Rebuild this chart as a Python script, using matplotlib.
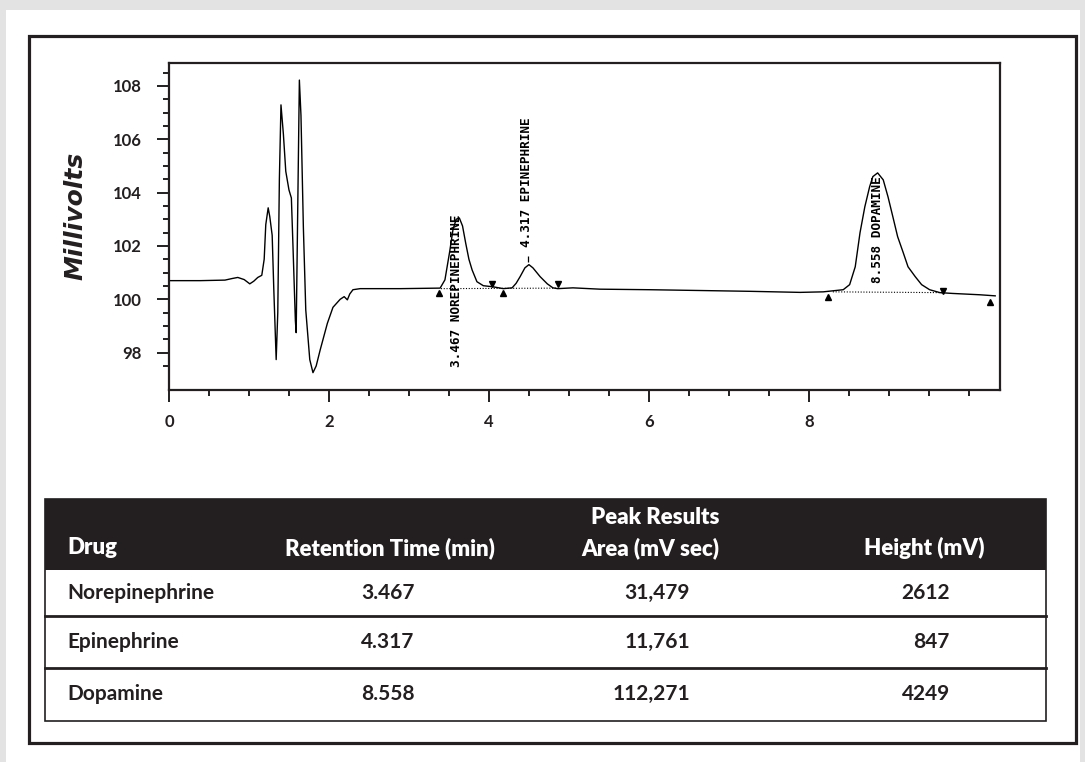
import matplotlib.pyplot as plt
from matplotlib.patches import Rectangle
from matplotlib.ticker import MultipleLocator, FixedLocator

plt.rcParams['font.family'] = ['Lato', 'DejaVu Sans']

ink = "#231f20"

# chromatogram trace (minutes, millivolts)
time_min = [0.00, 0.39, 0.70, 0.79, 0.86, 0.94, 1.01, 1.06, 1.11, 1.16,
            1.19, 1.21, 1.24, 1.26, 1.29, 1.31, 1.34, 1.36, 1.38, 1.40,
            1.43, 1.46, 1.50, 1.53, 1.55, 1.58, 1.59, 1.61, 1.63, 1.65,
            1.68, 1.71, 1.76, 1.80, 1.84, 1.89, 1.98, 2.05, 2.14, 2.19,
            2.23, 2.26, 2.30, 2.39, 2.89, 3.39, 3.45, 3.51, 3.55, 3.59,
            3.63, 3.67, 3.71, 3.75, 3.79, 3.85, 3.93, 4.05, 4.18, 4.29,
            4.34, 4.39, 4.45, 4.50, 4.55, 4.64, 4.73, 4.80, 4.86, 5.05,
            5.39, 6.01, 6.64, 7.26, 7.89, 8.18, 8.43, 8.51, 8.58, 8.64,
            8.70, 8.76, 8.80, 8.86, 8.93, 8.99, 9.05, 9.11, 9.18, 9.24,
            9.33, 9.41, 9.51, 9.64, 9.80, 10.14, 10.33]
signal_mv = [100.70, 100.70, 100.72, 100.78, 100.82, 100.74, 100.58, 100.68, 100.82, 100.90,
             101.50, 102.80, 103.43, 103.10, 102.40, 100.40, 97.74, 99.50, 104.50, 107.29,
             106.20, 104.80, 104.10, 103.80, 102.00, 99.20, 98.75, 103.50, 108.22, 106.90,
             102.70, 99.60, 97.74, 97.25, 97.50, 98.10, 99.10, 99.70, 100.00, 100.10,
             99.98, 100.20, 100.36, 100.40, 100.40, 100.42, 100.73, 101.80, 102.60, 103.00,
             103.05, 102.75, 102.10, 101.50, 101.10, 100.66, 100.51, 100.47, 100.40, 100.43,
             100.60, 100.85, 101.18, 101.30, 101.18, 100.85, 100.58, 100.43, 100.40, 100.43,
             100.38, 100.36, 100.33, 100.30, 100.26, 100.28, 100.36, 100.55, 101.22, 102.50,
             103.47, 104.22, 104.60, 104.74, 104.48, 103.84, 103.10, 102.35, 101.75, 101.22,
             100.85, 100.55, 100.36, 100.25, 100.22, 100.17, 100.13]

# integration start / end marks
start_t = [3.37, 4.17, 8.24, 10.26]
start_mv = [100.25, 100.25, 100.10, 99.91]
end_t = [4.04, 4.86, 9.68]
end_mv = [100.58, 100.58, 100.32]

# drawn peak baselines
base_t = [[3.40, 4.86], [8.30, 9.68]]
base_mv = [[100.40, 100.42], [100.28, 100.25]]

peak_labels = ["3.467 NOREPINEPHRINE", "4.317 EPINEPHRINE", "8.558 DOPAMINE"]
label_t = [3.59, 4.47, 8.86]
label_mv = [97.45, 101.95, 100.60]

apex_t = [4.49]
apex_mv = [101.52]

# peak results table
drugs = ["Norepinephrine", "Epinephrine", "Dopamine"]
ret_times = [3.467, 4.317, 8.558]
areas = [31479, 11761, 112271]
heights = [2612, 847, 4249]

W, H = 1085, 762
fig = plt.figure(figsize=(W / 100, H / 100), dpi=100, facecolor="#e3e3e3")

# page background, frame and table drawn in pixel units
bg = fig.add_axes([0, 0, 1, 1])
bg.set_xlim(0, W)
bg.set_ylim(H, 0)
bg.axis("off")
bg.add_patch(Rectangle((6, 10), 1074, 760, facecolor="white", edgecolor="none"))
bg.add_patch(Rectangle((29, 35.5), 1047, 707.5, fill=False, edgecolor=ink, lw=2.3))

# chart
ax = fig.add_axes([169 / W, 1 - 390 / H, 831 / W, 327 / H])
ax.set_zorder(2)
ax.plot(time_min, signal_mv, color="black", lw=1.0)
for bt, bm in zip(base_t, base_mv):
    ax.plot(bt, bm, color="black", lw=0.8, ls=(0, (1, 1.5)))
ax.plot(start_t, start_mv, ls="none", marker="^", ms=4.5, color="black")
ax.plot(end_t, end_mv, ls="none", marker="v", ms=4.5, color="black")
ax.plot(apex_t, apex_mv, ls="none", marker="|", ms=5, mew=0.9, color="black")
for lab, t, m in zip(peak_labels, label_t, label_mv):
    ax.text(t, m, lab, rotation=90, ha="center", va="bottom",
            family="DejaVu Sans Mono", fontweight="bold", fontsize=9.2)

ax.set_xlim(0, 10.39)
ax.set_ylim(96.6, 108.86)
ax.xaxis.set_major_locator(FixedLocator([0, 2, 4, 6, 8]))
ax.xaxis.set_minor_locator(MultipleLocator(0.5))
ax.yaxis.set_major_locator(MultipleLocator(2))
ax.yaxis.set_minor_locator(FixedLocator([97.5 + 0.5 * i for i in range(23)]))
ax.tick_params(which="major", direction="out", length=8.6, width=1.4, color=ink,
               labelcolor=ink, labelsize=12)
ax.tick_params(which="minor", direction="out", length=4.3, width=1.4, color=ink)
ax.tick_params(axis="y", which="major", pad=11)
ax.tick_params(axis="x", which="major", pad=9)
for lbl in ax.get_xticklabels() + ax.get_yticklabels():
    lbl.set_fontweight("bold")
for sp in ax.spines.values():
    sp.set_linewidth(1.6)
    sp.set_color(ink)

fig.text(75 / W, 1 - 216 / H, "Millivolts", rotation=90, ha="center", va="center",
         family="DejaVu Sans", fontsize=18, fontweight="bold", style="oblique", color=ink)

# table
tl, tr = 45, 1046
bg.add_patch(Rectangle((tl, 499), tr - tl, 71, facecolor=ink, edgecolor="none"))
bg.add_patch(Rectangle((tl, 499), tr - tl, 222, fill=False, edgecolor=ink, lw=1.2))
for y in [616, 668]:
    bg.plot([tl, tr], [y, y], color=ink, lw=2)

hdr = dict(color="white", fontsize=16, fontweight="heavy", va="center")
bg.text(67, 548, "Drug", ha="left", **hdr)
bg.text(390, 548, "Retention Time (min)", ha="center", **hdr)
bg.text(655, 517, "Peak Results", ha="center", **hdr)
bg.text(650, 548, "Area (mV sec)", ha="center", **hdr)
bg.text(924, 548, "Height (mV)", ha="center", **hdr)

row_y = [593, 642, 694]
cell = dict(color=ink, fontsize=15, fontweight="bold", va="center")
for y, d, r, a, h in zip(row_y, drugs, ret_times, areas, heights):
    bg.text(67, y, d, ha="left", **cell)
    bg.text(388, y, f"{r:.3f}", ha="center", **cell)
    bg.text(690, y, f"{a:,}", ha="right", **cell)
    bg.text(950, y, f"{h}", ha="right", **cell)

fig.savefig("out.png", dpi=100, facecolor=fig.get_facecolor())
